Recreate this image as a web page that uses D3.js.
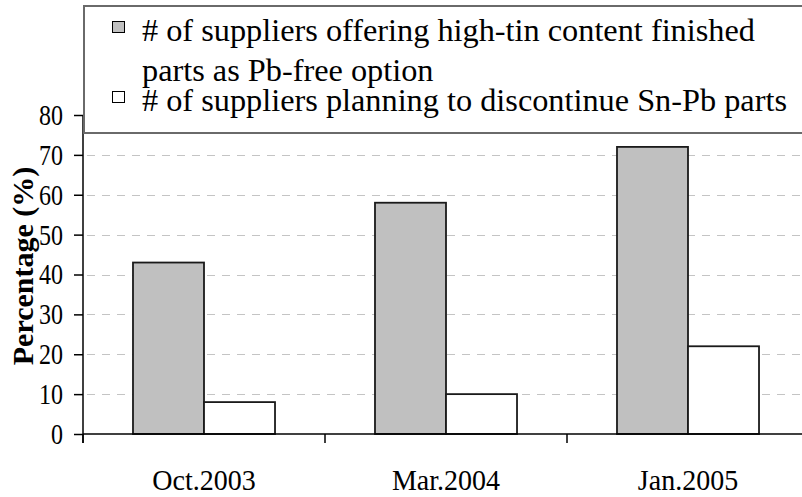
<!DOCTYPE html>
<html><head><meta charset="utf-8">
<script src="https://cdn.jsdelivr.net/npm/d3@7"></script>
<style>body{margin:0;background:#fff}svg{display:block}</style>
</head><body><svg id="c" width="802" height="497"></svg>
<script>
const categories = ["Oct.2003", "Mar.2004", "Jan.2005"];
const seriesNames = ["# of suppliers offering high-tin content finished", "parts as Pb-free option", "# of suppliers planning to discontinue Sn-Pb parts"];
const highTin = [43, 58, 72];
const discontinue = [8, 10, 22];
const yTicks = [0, 10, 20, 30, 40, 50, 60, 70, 80];

const svg = d3.select("#c");
const font = "'Liberation Serif','Times New Roman',serif";
const mLeft = 83, mRight = 809, mTop = 115, mBottom = 434;
const x = d3.scaleBand().domain(categories).range([mLeft, mRight]).paddingInner(0).paddingOuter(0);
const inner = d3.scaleBand().domain([0, 1]).range([0, x.bandwidth()]).paddingInner(0).paddingOuter(0.704);
const y = d3.scaleLinear().domain([0, 80]).range([mBottom, mTop]);

// gridlines
svg.append("g").selectAll("line").data(yTicks.filter(d => d > 0 && d < 80)).join("line")
  .attr("x1", mLeft + 4).attr("x2", 802).attr("y1", d => Math.round(y(d)) + 0.5).attr("y2", d => Math.round(y(d)) + 0.5)
  .attr("stroke", "#c4c4c4").attr("stroke-width", 1.2).attr("stroke-dasharray", "8,7");

const data = categories.map((c, i) => ({c, v: [highTin[i], discontinue[i]]}));
const fills = ["#c0c0c0", "#ffffff"];
const g = svg.append("g").selectAll("g").data(data).join("g").attr("transform", d => `translate(${x(d.c)},0)`);
g.selectAll("rect").data(d => d.v.map((v, k) => ({v, k}))).join("rect")
  .attr("x", d => inner(d.k)).attr("width", inner.bandwidth())
  .attr("y", d => y(d.v)).attr("height", d => mBottom - y(d.v))
  .attr("fill", d => fills[d.k]).attr("stroke", "#1a1a1a").attr("stroke-width", 1.8);

// y axis
const ya = svg.append("g").attr("transform", `translate(${mLeft},0)`)
  .call(d3.axisLeft(y).tickValues(yTicks).tickSize(9).tickPadding(11));
ya.selectAll("text").attr("font-family", font).attr("font-size", 24).attr("fill", "#000")
  .attr("transform", "scale(1,1.22)");
ya.selectAll("line,path").attr("stroke", "#000").attr("stroke-width", 1.5);
ya.select(".domain").attr("d", `M0,${mTop}V${mBottom + 9}`);

// x axis
const xa = svg.append("g").attr("transform", `translate(0,${mBottom})`);
xa.append("line").attr("x1", mLeft).attr("x2", 802).attr("y1", 0).attr("y2", 0).attr("stroke", "#000").attr("stroke-width", 1.5);
xa.selectAll("line.t").data(categories).join("line").attr("class", "t")
  .attr("x1", d => x(d)).attr("x2", d => x(d)).attr("y1", 0).attr("y2", 9).attr("stroke", "#000").attr("stroke-width", 1.5);
xa.selectAll("text").data(categories).join("text")
  .attr("transform", d => `translate(${x(d) + x.bandwidth() / 2},56) scale(1,1.07)`)
  .attr("text-anchor", "middle").attr("font-family", font).attr("font-size", 28).text(d => d);

// y title
svg.append("text").attr("transform", "translate(33,266) rotate(-90)")
  .attr("text-anchor", "middle").attr("font-family", font).attr("font-size", 30).attr("font-weight", "bold")
  .text("Percentage (%)");

// legend
const lg = svg.append("g");
lg.append("rect").attr("x", 84).attr("y", 6).attr("width", 730).attr("height", 127)
  .attr("fill", "#fff").attr("stroke", "#6a6a6a").attr("stroke-width", 2);
const legLines = [
  {sw: 0, text: seriesNames[0], yb: 41},
  {sw: -1, text: seriesNames[1], yb: 81},
  {sw: 1, text: seriesNames[2], yb: 111}
];
legLines.forEach(l => {
  if (l.sw >= 0) {
    lg.append("rect").attr("x", 112.5).attr("y", l.yb - 19.5).attr("width", 12).attr("height", 11)
      .attr("fill", fills[l.sw]).attr("stroke", "#000").attr("stroke-width", 1);
  }
  lg.append("text").attr("x", 142).attr("y", l.yb).attr("font-family", font).attr("font-size", 32.3).text(l.text);
});
</script></body></html>
